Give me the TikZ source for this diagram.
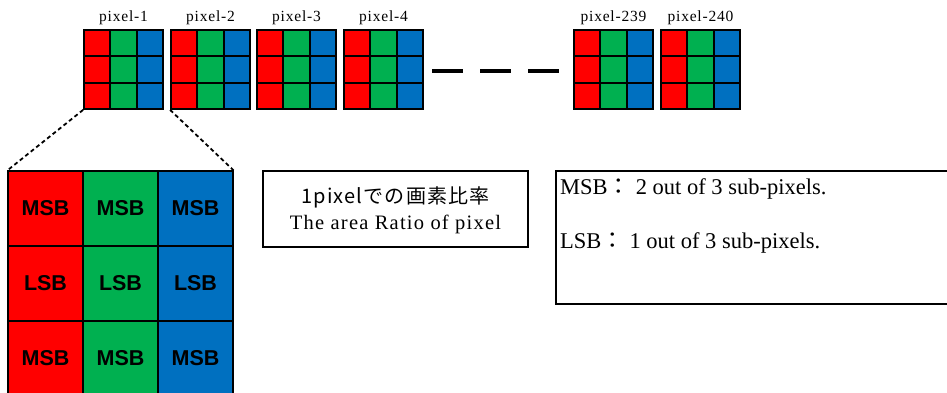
\documentclass[tikz,border=0pt]{standalone}
\usepackage{fontspec}
\setmainfont{Liberation Serif}
\newfontfamily\jp[LetterSpace=6]{Noto Sans CJK JP}
\newfontfamily\jpc{Noto Sans CJK JP}
\newfontfamily\sansb{Liberation Sans}
\newfontfamily\pxfont[LetterSpace=5]{Liberation Serif}
\newfontfamily\ratiofont[LetterSpace=6]{Liberation Serif}
\definecolor{pr}{HTML}{FF0000}
\definecolor{pg}{HTML}{00B050}
\definecolor{pb}{HTML}{0070C0}
\begin{document}
\begin{tikzpicture}[x=1pt,y=-1pt,
  pxlabel/.style={font=\pxfont\fontsize{15.5}{17}\selectfont, inner sep=0pt},
  pxblock/.style={draw, line width=1.8pt, minimum width=79pt, minimum height=79pt, inner sep=0pt},
  bigcell/.style={draw, line width=1.2pt, minimum width=75pt, minimum height=75pt, inner sep=0pt,
     font=\sansb\bfseries\fontsize{21.5}{24}\selectfont},
  infobox/.style={draw, line width=1.5pt, inner sep=0pt},
  zoomline/.style={line width=1.8pt, dash pattern=on 4pt off 3pt}
]
\useasboundingbox (0,0) rectangle (947,393);
\clip (0,0) rectangle (947,393);

% small pixel blocks
\foreach \L/\nm/\lab in {84/px1/pixel-1, 171/px2/pixel-2, 257/px3/pixel-3, 344/px4/pixel-4, 574/px239/pixel-239, 661/px240/pixel-240}{
  \fill[pr] (\L,30) rectangle ++(26.33,79);
  \fill[pg] (\L+26.33,30) rectangle ++(26.33,79);
  \fill[pb] (\L+52.67,30) rectangle ++(26.33,79);
  \draw[line width=1.8pt] (\L+26.33,30) -- ++(0,79) (\L+52.67,30) -- ++(0,79)
        (\L,56.33) -- ++(79,0) (\L,82.67) -- ++(79,0);
  \node[pxblock] (\nm) at (\L+39.5,69.5) {};
  \node[pxlabel] (\nm lab) at (\L+39.5,18) {\lab};
}

% dashes between pixel-4 and pixel-239
\coordinate (dA) at (432,71);
\coordinate (dB) at (559,71);
\draw[line width=4pt, dash pattern=on 31pt off 17pt] (dA) -- (dB);

% enlarged pixel
\node[bigcell, fill=pr] (b11) at (45.5,208.5) {MSB};
\node[bigcell, fill=pg] (b12) at (120.5,208.5) {MSB};
\node[bigcell, fill=pb] (b13) at (195.5,208.5) {MSB};
\node[bigcell, fill=pr] (b21) at (45.5,283.5) {LSB};
\node[bigcell, fill=pg] (b22) at (120.5,283.5) {LSB};
\node[bigcell, fill=pb] (b23) at (195.5,283.5) {LSB};
\node[bigcell, fill=pr] (b31) at (45.5,358.5) {MSB};
\node[bigcell, fill=pg] (b32) at (120.5,358.5) {MSB};
\node[bigcell, fill=pb] (b33) at (195.5,358.5) {MSB};

\draw[zoomline] (px1.south west) -- (b11.north west);
\draw[zoomline] (px2.south west) -- (b13.north east);

% ratio box
\node[infobox, minimum width=265pt, minimum height=76pt] (ratio) at (395.5,209) {};
\node[font=\jp\fontsize{20}{22}\selectfont, inner sep=0pt] (ratio1) at (395.5,197) {1pixelでの画素比率};
\node[font=\ratiofont\fontsize{20.5}{22}\selectfont, inner sep=0pt] (ratio2) at (395.5,224) {The area Ratio of pixel};

% explanation box
\node[infobox, anchor=north west, minimum width=410pt, minimum height=133pt] (expl) at (555,170) {};
\node[anchor=west, font=\fontsize{22.5}{26}\selectfont, inner sep=0pt] (msbtxt) at (560,189) {MSB{\jpc ：} 2 out of 3 sub-pixels.};
\node[anchor=west, font=\fontsize{22.5}{26}\selectfont, inner sep=0pt] (lsbtxt) at (560,243) {LSB{\jpc ：} 1 out of 3 sub-pixels.};
\end{tikzpicture}
\end{document}
